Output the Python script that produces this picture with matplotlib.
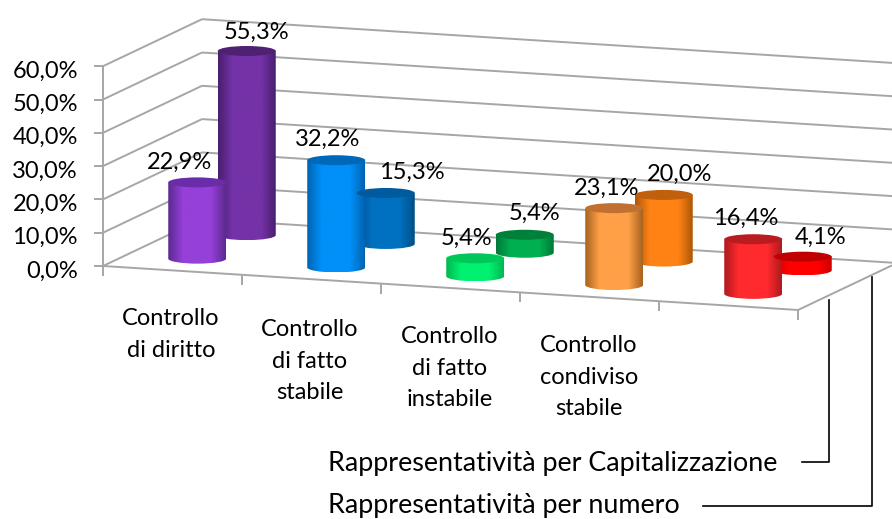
import numpy as np
import matplotlib
matplotlib.use('Agg')
import matplotlib.pyplot as plt
from matplotlib.colors import LinearSegmentedColormap
from matplotlib.patches import Ellipse, PathPatch
from matplotlib.path import Path

plt.rcParams['font.family'] = ['Lato', 'DejaVu Sans']

categories = ['Controllo\ndi diritto', 'Controllo\ndi fatto\nstabile',
              'Controllo\ndi fatto\ninstabile', 'Controllo\ncondiviso\nstabile', '']
capitalizzazione = [22.9, 32.2, 5.4, 23.1, 16.4]
numero = [55.3, 15.3, 5.4, 20.0, 4.1]
y_ticks = [0, 10, 20, 30, 40, 50, 60]
series_names = ['Rappresentatività per Capitalizzazione', 'Rappresentatività per numero']

# edge, centre, top colours
colors_front = [('#5c2a90', '#9540d8', '#6a2ca8'), ('#0064b4', '#0090f8', '#0068b8'),
                ('#00b850', '#00f070', '#00c858'), ('#a86420', '#ffa048', '#c07030'),
                ('#b01a1e', '#ff2a2e', '#b81c20')]
colors_back = [('#4a1f70', '#7432a8', '#4f2172'), ('#004f88', '#0070c0', '#005a9e'),
               ('#007a38', '#00b050', '#008038'), ('#b05808', '#ff8214', '#c05f0c'),
               ('#d00000', '#ff0000', '#c00000')]
# label offsets from the top of each cylinder
offset_front = [(-18, -20), (-9, -21), (-9, -20), (-8, -20), (-8, -21)]
offset_back = [(10, -19), (26, -21), (10, -21), (16, -21), (18, -19)]
label_pos = [(171, 317), (310, 328), (450, 335), (589, 344)]

ORIGIN = np.array([103.0, 266.0])
U_VEC = np.array([695.0, 44.0])
D_VEC = np.array([99.0, -47.0])
PX_PER_UNIT = 3.33
RX, RY = 29, 5
GRID = '#a6a6a6'


def project(u, d, z=0):
    p = ORIGIN + u * U_VEC + d * D_VEC
    return p[0], p[1] - z * PX_PER_UNIT


def line3(ax, a, b, color=GRID, lw=1.4):
    ax.plot([a[0], b[0]], [a[1], b[1]], color=color, lw=lw, solid_capstyle='butt', zorder=1)


def cylinder(ax, i, depth, value, cols):
    cx, base = project((i + 0.5) / 5, depth)
    top = base - value * PX_PER_UNIT
    k = 0.5523
    verts = [(cx - RX, top), (cx - RX, base),
             (cx - RX, base + k * RY), (cx - k * RX, base + RY), (cx, base + RY),
             (cx + k * RX, base + RY), (cx + RX, base + k * RY), (cx + RX, base),
             (cx + RX, top), (cx - RX, top)]
    codes = [Path.MOVETO, Path.LINETO, Path.CURVE4, Path.CURVE4, Path.CURVE4,
             Path.CURVE4, Path.CURVE4, Path.CURVE4, Path.LINETO, Path.CLOSEPOLY]
    clip = PathPatch(Path(verts, codes), fc='none', ec='none', transform=ax.transData)
    ax.add_patch(clip)
    cmap = LinearSegmentedColormap.from_list('c', [cols[0], cols[1], cols[1], cols[1], cols[0]])
    grad = cmap(np.abs(np.linspace(0, 1, 60))[None, :])
    im = ax.imshow(grad, extent=(cx - RX, cx + RX, base + RY, top), aspect='auto',
                   interpolation='bilinear', zorder=2 + i * 0.1)
    im.set_clip_path(clip)
    clip.set_zorder(2)
    ax.add_patch(Ellipse((cx, top), 2 * RX, 2 * RY, fc=cols[2], ec='none', zorder=2.05 + i * 0.1))
    return cx, top


fig = plt.figure(figsize=(8.92, 5.19), dpi=100)
ax = fig.add_axes([0, 0, 1, 1])

# side wall, back wall
for t in y_ticks:
    line3(ax, project(0, 0, t), project(0, 1, t))
    line3(ax, project(0, 1, t), project(1.02, 1, t - 0.0))
    line3(ax, project(0, 0, t), (ORIGIN[0] - 9, project(0, 0, t)[1]))
    ax.text(78, project(0, 0, t)[1] + 5, f'{t:.1f}%'.replace('.', ','),
            ha='right', va='center', fontsize=17, color='black')
line3(ax, project(0, 0, 0), project(0, 0, y_ticks[-1]))

# floor
line3(ax, project(0, 0), project(1, 0))
line3(ax, project(1, 0), project(1, 0.95))
for i in range(len(categories) + 1):
    x, y = project(i / 5, 0)
    line3(ax, (x, y), (x, y + 10))

labels = []
for i, v in enumerate(numero):
    cx, top = cylinder(ax, i, 0.75, v, colors_back[i])
    labels.append((cx + offset_back[i][0], top + offset_back[i][1], v))
for i, v in enumerate(capitalizzazione):
    cx, top = cylinder(ax, i, 0.25, v, colors_front[i])
    labels.append((cx + offset_front[i][0], top + offset_front[i][1], v))
for x, y, v in labels:
    ax.text(x, y, f'{v:.1f}%'.replace('.', ','), ha='center', va='center', fontsize=17,
            color='black', zorder=5)

for name, (x, y) in zip(categories, label_pos):
    ax.text(x, y - 9, name, ha='center', va='top', fontsize=17, linespacing=1.62, color='black')

# series leader lines
ax.text(328, 464, series_names[0], ha='left', va='center', fontsize=19.4, color='black')
ax.text(328, 505, series_names[1], ha='left', va='center', fontsize=19.4, color='black')
ax.plot([802, 829, 829], [462, 462, 300], color='black', lw=1.2)
ax.plot([703, 872, 872], [506, 506, 277], color='black', lw=1.2)

ax.set_xlim(0, 892)
ax.set_ylim(519, 0)
ax.axis('off')
fig.savefig('out.png', dpi=100)
